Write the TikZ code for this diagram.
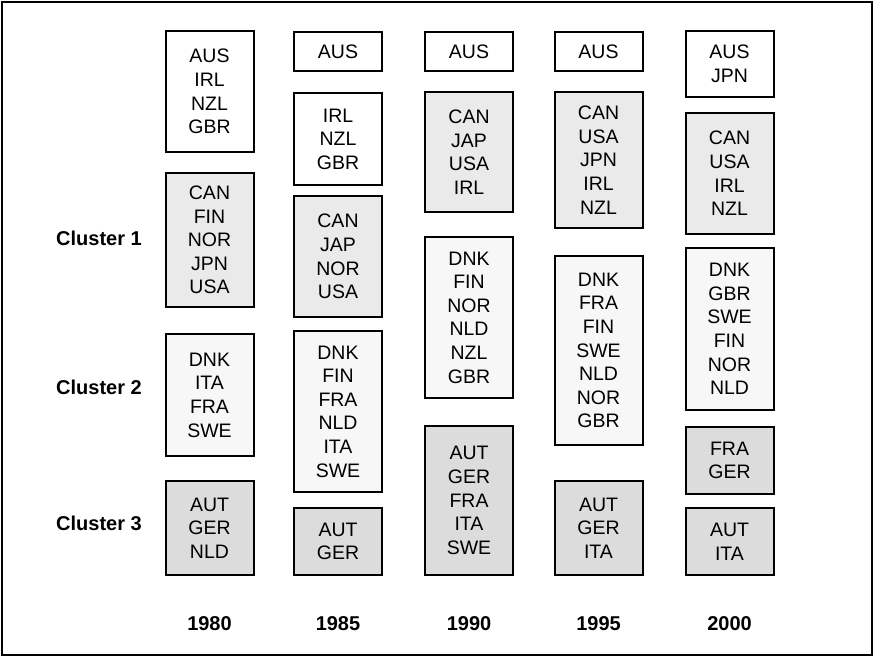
\documentclass[tikz,border=0pt]{standalone}
\usepackage{fontspec}
\setmainfont{Liberation Sans}
\usetikzlibrary{positioning}
\definecolor{clA}{HTML}{EAEAEA}
\definecolor{clB}{HTML}{F7F7F7}
\definecolor{clC}{HTML}{DCDCDC}
\tikzset{
  cbox/.style={draw=black, line width=2pt, minimum width=88, inner sep=0pt,
    align=center, font=\fontsize{19.5}{23.6}\selectfont},
  lab/.style={font=\fontsize{20}{24}\selectfont\bfseries, inner sep=0pt},
}
\begin{document}
\begin{tikzpicture}[x=1pt, y=-1pt]
  \useasboundingbox (0,0) rectangle (874,657);
  % outer frame
  \draw[line width=1.5pt] (2,2) rectangle (872,655);
  % 1980
  \node[cbox, fill=white, minimum height=121] (b80a) at (209.5,91.5) {AUS\\IRL\\NZL\\GBR};
  \node[cbox, fill=clA, minimum height=134] (b80b) at (209.5,240) {CAN\\FIN\\NOR\\JPN\\USA};
  \node[cbox, fill=clB, minimum height=122] (b80c) at (209.5,395) {DNK\\ITA\\FRA\\SWE};
  \node[cbox, fill=clC, minimum height=94] (b80d) at (209.5,528) {AUT\\GER\\NLD};
  % 1985
  \node[cbox, fill=white, minimum height=39] (b85a) at (338,51.5) {AUS};
  \node[cbox, fill=white, minimum height=92] (b85b) at (338,139) {IRL\\NZL\\GBR};
  \node[cbox, fill=clA, minimum height=121] (b85c) at (338,256.5) {CAN\\JAP\\NOR\\USA};
  \node[cbox, fill=clB, minimum height=161] (b85d) at (338,411.5) {DNK\\FIN\\FRA\\NLD\\ITA\\SWE};
  \node[cbox, fill=clC, minimum height=67] (b85e) at (338,541.5) {AUT\\GER};
  % 1990
  \node[cbox, fill=white, minimum height=39] (b90a) at (469,51.5) {AUS};
  \node[cbox, fill=clA, minimum height=120] (b90b) at (469,152) {CAN\\JAP\\USA\\IRL};
  \node[cbox, fill=clB, minimum height=161] (b90c) at (469,317.5) {DNK\\FIN\\NOR\\NLD\\NZL\\GBR};
  \node[cbox, fill=clC, minimum height=149] (b90d) at (469,500.5) {AUT\\GER\\FRA\\ITA\\SWE};
  % 1995
  \node[cbox, fill=white, minimum height=39] (b95a) at (598.5,51.5) {AUS};
  \node[cbox, fill=clA, minimum height=136] (b95b) at (598.5,160) {CAN\\USA\\JPN\\IRL\\NZL};
  \node[cbox, fill=clB, minimum height=189] (b95c) at (598.5,350.5) {DNK\\FRA\\FIN\\SWE\\NLD\\NOR\\GBR};
  \node[cbox, fill=clC, minimum height=94] (b95d) at (598.5,528) {AUT\\GER\\ITA};
  % 2000
  \node[cbox, fill=white, minimum height=66] (b00a) at (729.5,64) {AUS\\JPN};
  \node[cbox, fill=clA, minimum height=121] (b00b) at (729.5,173.5) {CAN\\USA\\IRL\\NZL};
  \node[cbox, fill=clB, minimum height=162] (b00c) at (729.5,329) {DNK\\GBR\\SWE\\FIN\\NOR\\NLD};
  \node[cbox, fill=clC, minimum height=67] (b00d) at (729.5,460.5) {FRA\\GER};
  \node[cbox, fill=clC, minimum height=67] (b00e) at (729.5,541.5) {AUT\\ITA};
  % cluster labels
  \node[lab, anchor=east] (cl1) at (142,238) {Cluster 1};
  \node[lab, anchor=east] (cl2) at (142,387) {Cluster 2};
  \node[lab, anchor=east] (cl3) at (142,523) {Cluster 3};
  % years
  \foreach \yr/\xx in {1980/209.5, 1985/338, 1990/469, 1995/598.5, 2000/729.5}
    \node[lab] (y\yr) at (\xx,624) {\yr};
\end{tikzpicture}
\end{document}
